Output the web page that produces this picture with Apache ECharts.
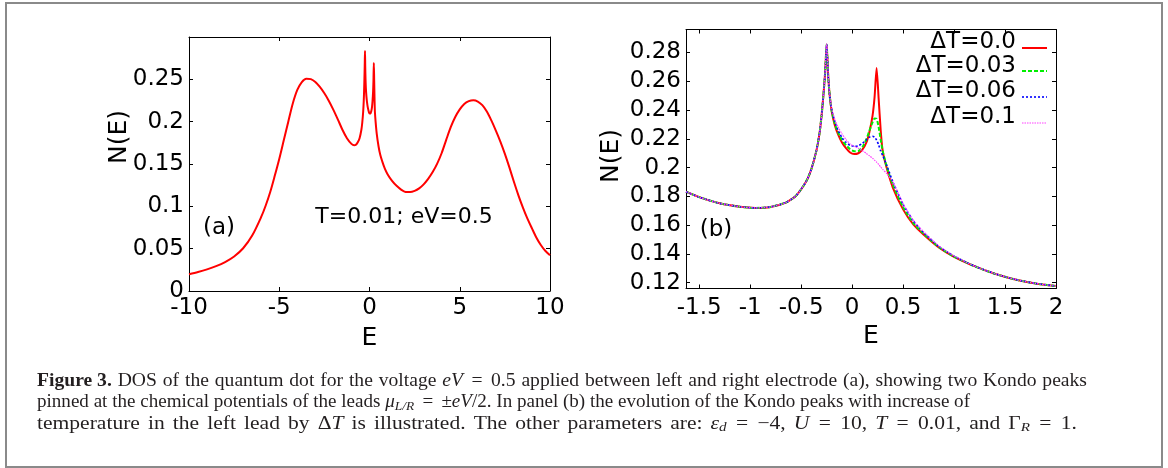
<!DOCTYPE html>
<html><head><meta charset="utf-8">
<script src="https://cdn.jsdelivr.net/npm/echarts@6/dist/echarts.min.js"></script>
<style>html,body{margin:0;padding:0;background:#fff}#c{width:1168px;height:468px}</style>
</head><body><div id="c"></div>
<script>
// ---------- Panel (a): T=0.01; eV=0.5 ----------
const eA = [-10, -9.5, -9, -8.5, -8, -7.5, -7, -6.5, -6, -5.75, -5.5, -5.25, -5, -4.75, -4.5, -4.25, -4, -3.75, -3.5, -3.25, -3, -2.75, -2.5, -2.25, -2, -1.75, -1.5, -1.25, -1.0, -0.85, -0.75, -0.65, -0.55, -0.45, -0.4, -0.35, -0.32, -0.3, -0.28, -0.265, -0.25, -0.235, -0.22, -0.2, -0.17, -0.14, -0.1, -0.06, -0.02, 0.02, 0.06, 0.1, 0.14, 0.17, 0.2, 0.22, 0.24, 0.26, 0.28, 0.3, 0.34, 0.4, 0.5, 0.6, 0.7, 0.85, 1.0, 1.25, 1.5, 1.75, 2.0, 2.25, 2.5, 2.75, 3.0, 3.25, 3.5, 3.75, 4.0, 4.25, 4.5, 4.75, 5.0, 5.25, 5.5, 5.75, 6.0, 6.25, 6.5, 6.75, 7.0, 7.25, 7.5, 7.75, 8.0, 8.25, 8.5, 8.75, 9.0, 9.25, 9.5, 9.75, 10];
const nA = [0.0198, 0.0224, 0.0255, 0.0293, 0.0342, 0.0408, 0.0505, 0.0655, 0.0875, 0.101, 0.117, 0.136, 0.156, 0.178, 0.200, 0.2215, 0.2375, 0.2468, 0.2508, 0.2502, 0.2468, 0.2410, 0.2335, 0.2245, 0.2140, 0.2025, 0.1905, 0.1805, 0.1738, 0.1722, 0.1728, 0.1757, 0.1805, 0.1905, 0.199, 0.212, 0.224, 0.236, 0.252, 0.266, 0.2835, 0.264, 0.250, 0.239, 0.2295, 0.2235, 0.2175, 0.2135, 0.2105, 0.2095, 0.2100, 0.2125, 0.2175, 0.225, 0.236, 0.249, 0.2692, 0.248, 0.226, 0.2115, 0.1995, 0.186, 0.171, 0.1605, 0.1535, 0.1445, 0.1380, 0.1300, 0.1242, 0.1198, 0.1170, 0.1168, 0.1182, 0.1212, 0.1260, 0.1325, 0.1405, 0.1505, 0.1630, 0.1785, 0.1935, 0.2055, 0.2145, 0.2210, 0.2242, 0.2252, 0.2238, 0.2195, 0.2120, 0.2015, 0.1895, 0.1765, 0.1620, 0.1460, 0.1290, 0.1130, 0.0985, 0.0855, 0.0740, 0.0630, 0.0540, 0.0472, 0.0423];

// ---------- Panel (b): evolution with Delta T ----------
const eB = [-1.63, -1.5, -1.3, -1.1, -0.95, -0.8, -0.65, -0.55, -0.45, -0.4, -0.35, -0.32, -0.3, -0.28, -0.265, -0.25, -0.235, -0.22, -0.2, -0.17, -0.14, -0.1, -0.06, -0.02, 0.02, 0.06, 0.1, 0.14, 0.17, 0.2, 0.22, 0.24, 0.26, 0.28, 0.3, 0.34, 0.4, 0.5, 0.6, 0.7, 0.85, 1.0, 1.2, 1.4, 1.6, 1.8, 2.0];
const nB_dT000 = [0.1833, 0.1795, 0.1752, 0.1728, 0.1720, 0.1727, 0.1757, 0.1805, 0.1905, 0.199, 0.212, 0.224, 0.236, 0.252, 0.266, 0.2855, 0.264, 0.250, 0.239, 0.2295, 0.2235, 0.2175, 0.2135, 0.2105, 0.2095, 0.2100, 0.2125, 0.2175, 0.225, 0.236, 0.249, 0.2692, 0.248, 0.226, 0.2115, 0.1995, 0.186, 0.171, 0.1605, 0.1535, 0.1445, 0.138, 0.1315, 0.1262, 0.1222, 0.1195, 0.1177];
const nB_dT003 = [0.1833, 0.1795, 0.1752, 0.1728, 0.1720, 0.1727, 0.1757, 0.1805, 0.1905, 0.199, 0.212, 0.224, 0.236, 0.252, 0.266, 0.2855, 0.264, 0.250, 0.2392, 0.2305, 0.2248, 0.2192, 0.2155, 0.2128, 0.2113, 0.2115, 0.2142, 0.2198, 0.2258, 0.2315, 0.2342, 0.2340, 0.2282, 0.2195, 0.2115, 0.2005, 0.188, 0.1725, 0.1615, 0.1542, 0.1448, 0.1382, 0.1315, 0.1262, 0.1222, 0.1195, 0.1177];
const nB_dT006 = [0.1833, 0.1795, 0.1752, 0.1728, 0.1720, 0.1727, 0.1757, 0.1805, 0.1905, 0.199, 0.212, 0.224, 0.236, 0.252, 0.266, 0.2855, 0.264, 0.250, 0.2398, 0.2318, 0.2262, 0.2208, 0.2176, 0.2155, 0.2148, 0.2152, 0.2168, 0.2193, 0.2212, 0.2218, 0.2212, 0.2192, 0.2158, 0.2115, 0.2085, 0.2015, 0.190, 0.1745, 0.163, 0.155, 0.1453, 0.1385, 0.1316, 0.1263, 0.1223, 0.1195, 0.1177];
const nB_dT010 = [0.1833, 0.1795, 0.1752, 0.1728, 0.1720, 0.1727, 0.1757, 0.1805, 0.1905, 0.199, 0.212, 0.224, 0.236, 0.252, 0.266, 0.2862, 0.265, 0.2505, 0.2408, 0.2335, 0.2285, 0.2235, 0.2195, 0.2165, 0.2148, 0.2135, 0.2118, 0.2098, 0.2082, 0.2065, 0.2052, 0.2038, 0.2022, 0.2005, 0.1988, 0.1958, 0.190, 0.175, 0.1635, 0.1555, 0.1456, 0.1386, 0.1316, 0.1263, 0.1223, 0.1195, 0.1177];

// ---------- ticks and labels ----------
const xTicksA = [-10, -5, 0, 5, 10];
const yTicksA = [0, 0.05, 0.1, 0.15, 0.2, 0.25];
const xTicksB = [-1.5, -1, -0.5, 0, 0.5, 1, 1.5, 2];
const yTicksB = [0.12, 0.14, 0.16, 0.18, 0.2, 0.22, 0.24, 0.26, 0.28];
const legendLabels = ['ΔT=0.0', 'ΔT=0.03', 'ΔT=0.06', 'ΔT=0.1'];
const captionLines = [
  '{b|Figure 3.} DOS of the quantum dot for the voltage {i|eV}{m| }={m| }0.5 applied between left and right electrode (a), showing two Kondo peaks',
  'pinned at the chemical potentials of the leads {i|μ}{s|L/R}{m| }={m| }±{i|eV}/2. In panel (b) the evolution of the Kondo peaks with increase of',
  'temperature in the left lead by Δ{i|T} is illustrated. The other parameters are: {i|ε}{s|d}{m| }={m| }−4, {i|U}{m| }={m| }10, {i|T}{m| }={m| }0.01, and Γ{s|R}{m| }={m| }1.'
];
const captionRightEdges = [1087, 970, 1077];

const FONT = 'DejaVu Sans';
const CAPFONT = 'Liberation Serif';
const CAPSIZE = 18.5;
const CAPCOLOR = '#231f20';
const MATHSP = 8;   // width of a spacing token around "=" in formulas
const zip = (xs, ys) => xs.map((x, i) => [x, ys[i]]);
const fmt = v => String(parseFloat(Number(v).toFixed(3)));

function xAxis(grid, min, max, ticks, pos, withLabels, name, gap, margin) {
  return {
    type: 'value', gridIndex: grid, min: min, max: max, position: pos,
    name: withLabels ? name : '', nameLocation: 'middle', nameGap: gap,
    nameTextStyle: { fontFamily: FONT, fontSize: 25, color: '#000' },
    axisLine: { show: true, onZero: false, lineStyle: { color: '#000', width: 1 } },
    axisTick: { show: true, inside: true, length: 4, customValues: ticks, lineStyle: { color: '#000', width: 1 } },
    axisLabel: { show: withLabels, customValues: ticks, margin: margin, fontFamily: FONT, fontSize: 23, color: '#000', formatter: fmt },
    splitLine: { show: false }
  };
}
function yAxis(grid, min, max, ticks, pos, withLabels) {
  return {
    type: 'value', gridIndex: grid, min: min, max: max, position: pos,
    axisLine: { show: true, onZero: false, lineStyle: { color: '#000', width: 1 } },
    axisTick: { show: true, inside: true, length: 4, customValues: ticks, lineStyle: { color: '#000', width: 1 } },
    axisLabel: { show: withLabels, customValues: ticks, margin: 5, fontFamily: FONT, fontSize: 23, color: '#000', formatter: fmt },
    splitLine: { show: false }
  };
}

const seriesStyles = [
  { color: '#ff0000', width: 2, type: 'solid' },
  { color: '#00ee00', width: 2, type: [4, 2] },
  { color: '#0000ff', width: 1.6, type: [2, 2] },
  { color: '#ff40ff', width: 1.2, type: [1.5, 1] }
];
const bData = [nB_dT000, nB_dT003, nB_dT006, nB_dT010];

// ---- caption layout: modest space widening + per-line horizontal scale ----
const mctx = document.createElement('canvas').getContext('2d');
function fontFor(tag) {
  if (tag === 'b') return 'bold ' + CAPSIZE + 'px "' + CAPFONT + '"';
  if (tag === 'i') return 'italic ' + CAPSIZE + 'px "' + CAPFONT + '"';
  if (tag === 's') return 'italic 13px "' + CAPFONT + '"';
  return CAPSIZE + 'px "' + CAPFONT + '"';
}
function analyse(t) {
  let w = 0, n = 0, out = '';
  const re = /\{(\w+)\|([^}]*)\}|([^{]+)/g; let m;
  mctx.font = fontFor('');
  const spW = mctx.measureText(' ').width;
  while ((m = re.exec(t)) !== null) {
    if (m[1] === 'm') { w += MATHSP; out += m[0]; }
    else if (m[1]) { mctx.font = fontFor(m[1]); w += mctx.measureText(m[2]).width; out += m[0]; }
    else {
      const parts = m[3].split(' ');
      mctx.font = fontFor('');
      parts.forEach((p, k) => {
        if (k > 0) { n++; out += '{sp| }'; }
        if (p) { w += mctx.measureText(p).width; out += p; }
      });
    }
  }
  return { text: out, w: w, n: n, spW: spW };
}
const capInfo = captionLines.map(analyse);
const capX = 37;

const chart = echarts.init(document.getElementById('c'), null, { renderer: 'canvas' });

const legendRowsText = [42, 66, 91.5, 117];
const legendRowsLine = [48, 71, 97, 123];
const graphics = [
  { type: 'rect', shape: { x: 6, y: 3, width: 1156, height: 464 }, style: { fill: 'none', stroke: '#8a8a8a', lineWidth: 2 }, silent: true },
  { type: 'text', x: 404, y: 217, style: { text: 'T=0.01; eV=0.5', fontFamily: FONT, fontSize: 22, fill: '#000', align: 'center', verticalAlign: 'middle' } },
  { type: 'text', x: 219, y: 228, style: { text: '(a)', fontFamily: FONT, fontSize: 23, fill: '#000', align: 'center', verticalAlign: 'middle' } },
  { type: 'text', x: 716, y: 230, style: { text: '(b)', fontFamily: FONT, fontSize: 23, fill: '#000', align: 'center', verticalAlign: 'middle' } },
  { type: 'text', x: 119, y: 137, rotation: Math.PI / 2, style: { text: 'N(E)', fontFamily: FONT, fontSize: 25, fill: '#000', align: 'center', verticalAlign: 'middle' } },
  { type: 'text', x: 611, y: 156, rotation: Math.PI / 2, style: { text: 'N(E)', fontFamily: FONT, fontSize: 25, fill: '#000', align: 'center', verticalAlign: 'middle' } }
];
legendLabels.forEach((lab, i) => {
  graphics.push({ type: 'text', x: 1016, y: legendRowsText[i], style: { text: lab, fontFamily: FONT, fontSize: 23, fill: '#000', align: 'right', verticalAlign: 'middle' } });
  const st = seriesStyles[i];
  graphics.push({ type: 'line', shape: { x1: 1022, y1: legendRowsLine[i], x2: 1047, y2: legendRowsLine[i] }, style: { stroke: st.color, lineWidth: st.width, lineDash: st.type === 'solid' ? null : st.type } });
});
const capY = [381, 402.5, 424];
capInfo.forEach((c, i) => {
  const target = captionRightEdges[i] - capX;
  // widen word spaces a little (at most 1.5x), then scale the rest horizontally
  let sp = c.spW;
  let natural = c.w + c.n * sp;
  let s = target / natural;
  if (s > 1.06 && c.n > 0) {
    sp = Math.min(c.spW * 1.5, (target / 1.06 - c.w) / c.n);
    natural = c.w + c.n * sp;
    s = target / natural;
  }
  graphics.push({ type: 'text', x: capX, y: capY[i], scaleX: s, style: {
    text: c.text, fontFamily: CAPFONT, fontSize: CAPSIZE, fill: CAPCOLOR, align: 'left', verticalAlign: 'middle',
    rich: {
      b: { fontFamily: CAPFONT, fontSize: CAPSIZE, fontWeight: 'bold', fill: CAPCOLOR },
      i: { fontFamily: CAPFONT, fontSize: CAPSIZE, fontStyle: 'italic', fill: CAPCOLOR },
      s: { fontFamily: CAPFONT, fontSize: 13, fontStyle: 'italic', fill: CAPCOLOR, verticalAlign: 'bottom', padding: [8, 0, 0, 0] },
      sp: { fontFamily: CAPFONT, fontSize: CAPSIZE, fill: CAPCOLOR, width: sp },
      m: { fontFamily: CAPFONT, fontSize: CAPSIZE, fill: CAPCOLOR, width: MATHSP }
    }
  } });
});

const option = {
  animation: false,
  backgroundColor: '#fff',
  grid: [
    { left: 189, top: 37, width: 361, height: 254 },
    { left: 686, top: 29.5, width: 370, height: 259 }
  ],
  xAxis: [
    xAxis(0, -10, 10, xTicksA, 'bottom', true, 'E', 35, 6),
    xAxis(0, -10, 10, xTicksA, 'top', false, '', 0, 6),
    xAxis(1, -1.63, 2, xTicksB, 'bottom', true, 'E', 33, 8),
    xAxis(1, -1.63, 2, xTicksB, 'top', false, '', 0, 8)
  ],
  yAxis: [
    yAxis(0, 0, 0.3, yTicksA, 'left', true),
    yAxis(0, 0, 0.3, yTicksA, 'right', false),
    yAxis(1, 0.116, 0.296, yTicksB, 'left', true),
    yAxis(1, 0.116, 0.296, yTicksB, 'right', false)
  ],
  series: [
    { type: 'line', xAxisIndex: 0, yAxisIndex: 0, data: zip(eA, nA), showSymbol: false, symbol: 'none', smooth: 0.3,
      lineStyle: { color: '#ff0000', width: 2 } }
  ].concat(bData.map((d, i) => ({
    type: 'line', name: legendLabels[i], xAxisIndex: 2, yAxisIndex: 2, data: zip(eB, d), showSymbol: false, symbol: 'none', smooth: 0.2,
    lineStyle: { color: seriesStyles[i].color, width: seriesStyles[i].width, type: seriesStyles[i].type }
  }))),
  graphic: graphics
};
chart.setOption(option);
</script>
</body></html>
